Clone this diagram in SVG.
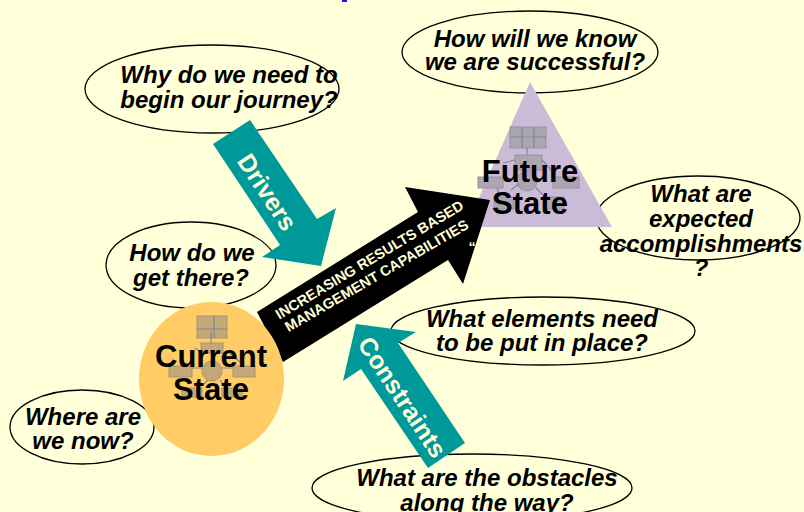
<svg xmlns="http://www.w3.org/2000/svg" width="804" height="512" viewBox="0 0 804 512">
<style>
text{font-family:"Liberation Sans",Arial,sans-serif;font-weight:700;text-anchor:middle}
.q{font-size:24px;font-style:italic;fill:#000}
.s{font-size:31px;fill:#000}
.o{fill:#ffffd9;stroke:#000;stroke-width:1.3}
.t{fill:#009999}
.w{font-size:25px;fill:#ffffd9}
.m{font-size:14.5px;fill:#ffffd9}
.g{fill:#c4a878;stroke:#a8966f;stroke-width:1}
.h{fill:#aca6b2;stroke:#97919e;stroke-width:1}
.l{stroke:#7f8699;stroke-width:1.2;fill:none}
</style>
<rect width="804" height="512" fill="#ffffd9"/>
<rect x="342" y="0" width="5" height="2" fill="#1414f0"/>
<g id="q-journey">
<ellipse class="o" cx="212" cy="89" rx="127" ry="44"/>
<text class="q" x="229" y="83">Why do we need to</text>
<text class="q" x="229" y="108">begin our journey?</text>
</g>
<g id="q-known">
<ellipse class="o" cx="530" cy="52" rx="128" ry="41"/>
<text class="q" x="535" y="47">How will we know</text>
<text class="q" x="535" y="70">we are successful?</text>
</g>
<g id="q-accomplish">
<ellipse class="o" cx="698" cy="218" rx="102" ry="42"/>
<text class="q" x="701" y="202">What are</text>
<text class="q" x="701" y="227">expected</text>
<text class="q" x="701" y="252">accomplishments</text>
<text class="q" x="701" y="276">?</text>
</g>
<g id="q-there">
<ellipse class="o" cx="191" cy="265" rx="85" ry="43"/>
<text class="q" x="192" y="261">How do we</text>
<text class="q" x="191" y="286">get there?</text>
</g>
<g id="q-elements">
<ellipse class="o" cx="543" cy="331" rx="152" ry="34"/>
<text class="q" x="542" y="327">What elements need</text>
<text class="q" x="542" y="351">to be put in place?</text>
</g>
<g id="q-now">
<ellipse class="o" cx="82" cy="427" rx="72" ry="37"/>
<text class="q" x="83" y="425">Where are</text>
<text class="q" x="83" y="449">we now?</text>
</g>
<g id="q-obstacles">
<ellipse class="o" cx="472" cy="488" rx="160" ry="34"/>
<text class="q" x="487" y="486">What are the obstacles</text>
<text class="q" x="487" y="511">along the way?</text>
</g>
<g id="connectors">
<polygon points="213,144 250,120 317,219 336,208 321,266 262,257 280,245" class="t"/>
<text class="w" transform="translate(260,197) rotate(56.500)" x="0" y="0">Drivers</text>
<polygon points="428,468 465,443 398,343 416,332 356,324 343,381 361,369" class="t"/>
<text class="w" transform="translate(395,402) rotate(56.500)" x="0" y="0">Constraints</text>
</g>
<g id="future-state">
<polygon points="530,82 612,227 466,227" fill="#ccbbd6"/>
<rect class="h" x="510" y="127" width="36" height="21"/><path class="l" d="M510 137H546M522 127V148M534 127V148M527 148V155"/>
<rect class="h" x="515" y="155" width="27" height="15"/>
<rect class="h" x="478" y="177" width="25" height="11"/>
<rect class="h" x="553" y="177" width="26" height="11"/>
<circle class="h" cx="527" cy="181" r="10"/>
<rect class="h" x="494" y="197" width="20" height="12"/>
<rect class="h" x="544" y="197" width="20" height="12"/>
<path class="l" d="M503 163L515 160M542 160L556 175M511 190L519 184M536 188L546 198M497 188L500 196"/>
<text class="s" x="530" y="182">Future</text>
<text class="s" x="530" y="214">State</text>
</g>
<g id="black-arrow">
<polygon points="257,312 418,212 405,187 490,200 463,284 448,260 283,362" fill="#000"/>
<text class="m" transform="translate(372,264) rotate(-31)" x="0" y="0">INCREASING RESULTS BASED</text>
<text class="m" transform="translate(379,280) rotate(-30)" x="0" y="0">MANAGEMENT CAPABILITIES</text>
<text class="m" x="472" y="252">“</text>
</g>
<g id="current-state">
<ellipse cx="211.500" cy="379" rx="72.500" ry="77" fill="#ffcc66"/>
<rect class="g" x="197" y="316" width="30" height="22"/><path class="l" d="M197 329H227M214 316V338M211 332V343"/>
<rect class="g" x="201" y="343" width="22" height="10"/>
<rect class="g" x="169" y="366" width="23" height="11"/>
<rect class="g" x="233" y="366" width="22" height="11"/>
<circle class="g" cx="212" cy="371" r="10"/>
<rect class="g" x="182" y="388" width="20" height="9"/>
<rect class="g" x="222" y="388" width="20" height="9"/>
<path class="l" d="M192 368H202M222 368H233M195 348L201 352M228 352L240 362M204 384L208 380M220 380L224 386"/>
<text class="s" x="211" y="367">Current</text>
<text class="s" x="211" y="400">State</text>
</g>
</svg>
